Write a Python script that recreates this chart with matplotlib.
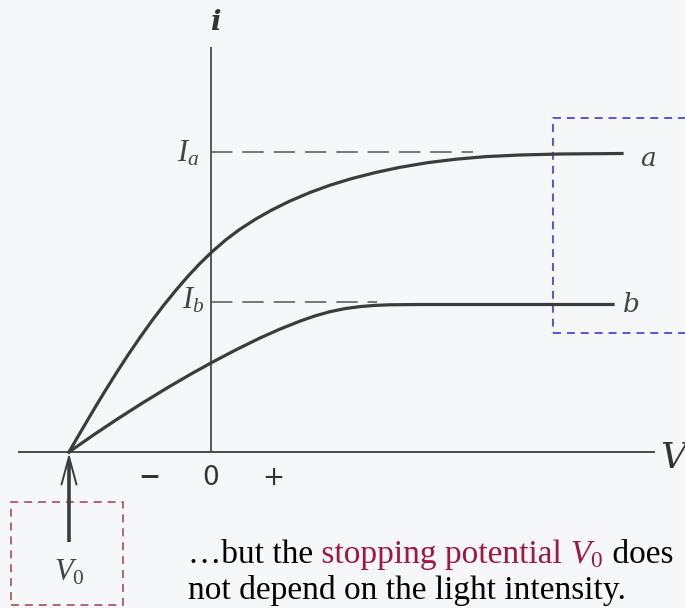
import matplotlib
matplotlib.use('Agg')
import matplotlib.pyplot as plt
from matplotlib.patches import Rectangle
from matplotlib.transforms import IdentityTransform

plt.rcParams['mathtext.fontset'] = 'custom'
plt.rcParams['mathtext.rm'] = 'Liberation Serif'
plt.rcParams['mathtext.it'] = 'Liberation Serif:italic'

# ── photocurrent vs. voltage, two light intensities ──────────────────────────
V_a = [-2.000, -1.845, -1.676, -1.507, -1.338, -1.169, -1.000, -0.831,
       -0.662, -0.493, -0.324, -0.155, 0.014, 0.211, 0.408, 0.634, 0.859,
       1.113, 1.394, 1.676, 1.986, 2.324, 2.662, 3.056, 3.451, 3.873,
       4.352, 4.915, 5.789]
i_a = [0.000, 0.190, 0.394, 0.593, 0.785, 0.970, 1.146, 1.314,
       1.471, 1.619, 1.758, 1.886, 2.002, 2.123, 2.228, 2.331, 2.421,
       2.510, 2.595, 2.668, 2.735, 2.796, 2.847, 2.894, 2.928, 2.954,
       2.970, 2.980, 2.985]

V_b = [-2.000, -1.662, -1.324, -0.972, -0.620, -0.296, 0.014, 0.352,
       0.690, 0.972, 1.254, 1.465, 1.676, 1.887, 2.099, 2.310, 2.521,
       2.944, 5.662]
i_b = [0.000, 0.167, 0.327, 0.487, 0.640, 0.774, 0.896, 1.022,
       1.140, 1.229, 1.309, 1.361, 1.403, 1.434, 1.454, 1.466, 1.472,
       1.475, 1.475]

V0 = -2.0            # stopping potential
I_a, I_b = 3.0, 1.5  # saturation currents
tick_pos = [-0.87, 0.0, 0.87]
tick_txt = ['\u2212', '0', '+']
tick_wt = ['bold', 'normal', 'normal']

BG = '#f6f7f9'
INK = '#3c3c3c'
CRIMSON = '#a01840'

fig = plt.figure(figsize=(6.85, 6.08), dpi=100, facecolor=BG)
ax = fig.add_axes([0, 0, 1, 1])
ax.set_facecolor(BG)
ax.set_xlim(-211 / 71, 474 / 71)
ax.set_ylim(-1.56, 4.52)
ax.axis('off')

# axes of the diagram
ax.plot([-2.72, 6.25], [0, 0], color='#4a4a4a', lw=1.4, solid_capstyle='butt')
ax.plot([0, 0], [0, 4.05], color='#4a4a4a', lw=1.3, solid_capstyle='butt')

# saturation levels
ax.plot([0, 3.69], [I_a, I_a], color='#555555', lw=1.1, ls=(0, (14, 6.5)))
ax.plot([0, 2.34], [I_b, I_b], color='#555555', lw=1.1, ls=(0, (14, 6.5)))

# curves
ax.plot(V_a, i_a, color=INK, lw=2.3, solid_joinstyle='round')
ax.plot(V_b, i_b, color=INK, lw=2.3, solid_joinstyle='round')

serif = 'DejaVu Serif'
ax.text(0.06, 4.30, 'i', fontsize=20, fontstyle='italic', fontweight='bold',
        family=serif, color='#333333', ha='center', va='center')
ax.text(6.32, -0.06, 'V', fontsize=26, fontstyle='italic', family=serif,
        color='#333333', ha='left', va='center')
ax.text(6.15, 2.94, 'a', fontsize=19, fontstyle='italic', family=serif,
        color='#444444', ha='center', va='center')
ax.text(5.92, 1.47, 'b', fontsize=19, fontstyle='italic', family=serif,
        color='#444444', ha='center', va='center')
ax.text(-0.17, 2.99, r'$I_a$', fontsize=22, color='#444444',
        ha='right', va='center')
ax.text(-0.09, 1.52, r'$I_b$', fontsize=22, color='#444444',
        ha='right', va='center')

for x, t, w in zip(tick_pos, tick_txt, tick_wt):
    ax.text(x, -0.26, t, fontsize=19, color='#333333', ha='center',
            va='center', family='DejaVu Sans', fontweight=w)

# V0 marker
ax.plot([V0, V0], [-0.90, -0.12], color=INK, lw=2.6, solid_capstyle='butt')
ax.annotate('', xy=(V0, -0.01), xytext=(V0, -0.6),
            arrowprops=dict(arrowstyle='->,head_length=1.0,head_width=0.27',
                            mutation_scale=20, lw=1.4, color=INK,
                            shrinkA=0, shrinkB=0))
ax.text(-1.99, -1.20, r'$V_0$', fontsize=22, color='#444444',
        ha='center', va='center')

# highlight boxes
ax.add_patch(Rectangle((-2.82, -1.53), 1.58, 1.03, fill=False,
                       ec='#a0404a', lw=1.1, ls=(0, (5.2, 3.9))))
ax.add_patch(Rectangle((4.82, 1.19), 2.2, 2.15, fill=False,
                       ec='#2a2ad8', lw=1.1, ls=(0, (5.2, 3.9))))

# caption, coloured pieces laid out on a shared baseline
cap_size = 24
x0, y1, y2 = -0.32, -1.11, -1.47
fig.canvas.draw()
renderer = fig.canvas.get_renderer()
pieces = [('\u2026but the', 'black'), (' stopping potential', CRIMSON),
          (' $V_0$', CRIMSON), (' does', 'black')]
bx, by = ax.transData.transform((x0, y1))
for s, c in pieces:
    t = ax.text(bx, by, s, fontsize=cap_size, family='Liberation Serif',
                color=c, ha='left', va='baseline', transform=IdentityTransform())
    bx = t.get_window_extent(renderer).x1
ax.text(x0, y2, 'not depend on the light intensity.', fontsize=cap_size,
        family='Liberation Serif', color='black', ha='left', va='baseline')

fig.savefig('out.png', dpi=100, facecolor=BG)
